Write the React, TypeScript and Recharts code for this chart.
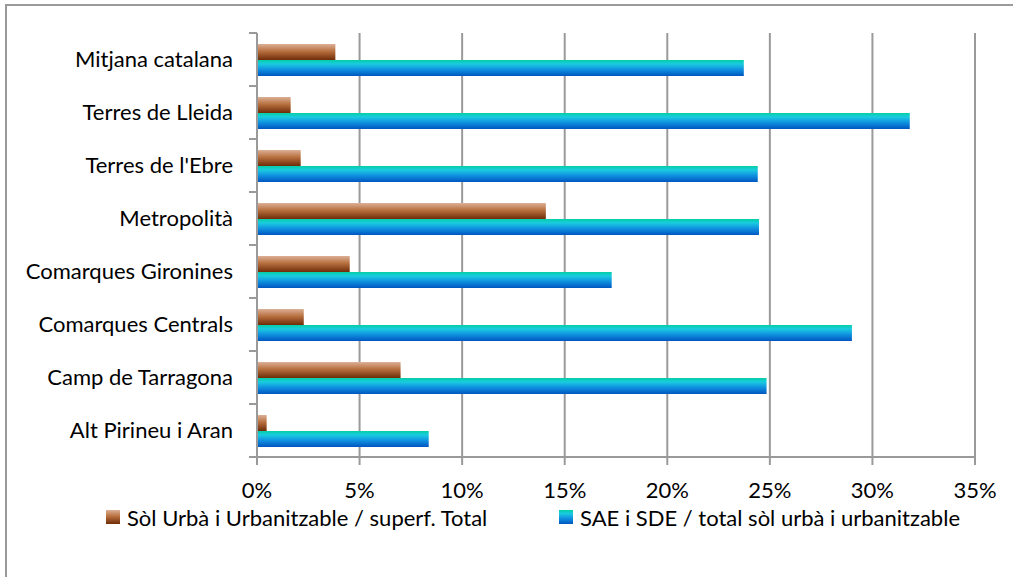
import React from "react";
import { BarChart, Bar, XAxis, YAxis, CartesianGrid } from "recharts";

const categories = [
  "Mitjana catalana",
  "Terres de Lleida",
  "Terres de l'Ebre",
  "Metropolità",
  "Comarques Gironines",
  "Comarques Centrals",
  "Camp de Tarragona",
  "Alt Pirineu i Aran",
];
const solUrba = [0.0382, 0.0164, 0.0213, 0.1408, 0.0452, 0.0228, 0.07, 0.0047];
const saeSde = [0.2373, 0.3182, 0.2441, 0.2447, 0.1729, 0.29, 0.2484, 0.0837];
const xTicks = [0, 0.05, 0.1, 0.15, 0.2, 0.25, 0.3, 0.35];
const seriesNames = [
  "Sòl Urbà i Urbanitzable / superf. Total",
  "SAE i SDE / total sòl urbà i urbanitzable",
];

const data = categories.map((name, i) => ({ name, a: solUrba[i], b: saeSde[i] }));
const n = categories.length;

const FONT = "Lato, 'Open Sans', sans-serif";
const FS = 22;
const GRID = "#9a9a9a";

const CatTick = (props: any) => {
  const { x, y, payload, index } = props;
  const half = payload && payload.offset ? payload.offset : 0;
  return (
    <g>
      <line x1={x - 8} x2={x} y1={y - half} y2={y - half} stroke={GRID} strokeWidth={2} />
      {index === n - 1 ? (
        <line x1={x - 8} x2={x} y1={y + half} y2={y + half} stroke={GRID} strokeWidth={2} />
      ) : null}
      <text x={x - 24} y={y} dy="0.35em" textAnchor="end" fontFamily={FONT} fontSize={FS} fill="#000">
        {payload.value}
      </text>
    </g>
  );
};

export default function App() {
  return (
    <div style={{ position: "absolute", left: 0, top: 0, width: 1013, height: 577, overflow: "hidden", background: "#fff" }}>
      <div style={{ position: "absolute", left: 5, top: 4, width: 1200, height: 800, border: "2px solid #9a9a9a", boxSizing: "border-box" }} />
      <BarChart
        width={1013}
        height={577}
        data={data}
        layout="vertical"
        margin={{ top: 33, right: 38, left: 0, bottom: 0 }}
        barCategoryGap={11}
        barGap={0}
        style={{ position: "absolute", left: 0, top: 0 }}
      >
        <defs>
          <linearGradient id="gBrown" x1="0" y1="0" x2="0" y2="1">
            <stop offset="0%" stopColor="#dcb096" />
            <stop offset="45%" stopColor="#b8703f" />
            <stop offset="100%" stopColor="#6e2c08" />
          </linearGradient>
          <linearGradient id="gBlue" x1="0" y1="0" x2="0" y2="1">
            <stop offset="0%" stopColor="#04cfa6" />
            <stop offset="25%" stopColor="#1acbe0" />
            <stop offset="60%" stopColor="#1090e0" />
            <stop offset="100%" stopColor="#0056c0" />
          </linearGradient>
        </defs>
        <CartesianGrid horizontal={false} stroke={GRID} strokeWidth={2} />
        <XAxis
          type="number"
          domain={[0, 0.35]}
          ticks={xTicks}
          interval={0}
          height={120}
          tickSize={8}
          tickMargin={17}
          axisLine={{ stroke: GRID, strokeWidth: 2 }}
          tickLine={{ stroke: GRID, strokeWidth: 2 }}
          tick={{ fill: "#000", fontSize: FS, fontFamily: FONT }}
          tickFormatter={(v: number) => `${Math.round(v * 100)}%`}
        />
        <YAxis
          type="category"
          dataKey="name"
          interval={0}
          width={257}
          tickSize={0}
          tickMargin={0}
          tickLine={false}
          axisLine={{ stroke: GRID, strokeWidth: 2 }}
          tick={<CatTick />}
        />
        <Bar dataKey="a" name={seriesNames[0]} fill="url(#gBrown)" isAnimationActive={false} />
        <Bar dataKey="b" name={seriesNames[1]} fill="url(#gBlue)" isAnimationActive={false} />
      </BarChart>
      <div style={{ position: "absolute", left: 106, top: 503, height: 28, display: "flex", alignItems: "center", fontFamily: FONT, fontSize: FS, color: "#000", whiteSpace: "nowrap" }}>
        <span style={{ display: "inline-block", width: 14, height: 14, background: "linear-gradient(#dcb096, #b8703f 45%, #6e2c08)", marginRight: 7 }} />
        {seriesNames[0]}
      </div>
      <div style={{ position: "absolute", left: 559, top: 503, height: 28, display: "flex", alignItems: "center", fontFamily: FONT, fontSize: FS, color: "#000", whiteSpace: "nowrap" }}>
        <span style={{ display: "inline-block", width: 14, height: 14, background: "linear-gradient(#04cfa6, #1acbe0 25%, #1090e0 60%, #0056c0)", marginRight: 7 }} />
        {seriesNames[1]}
      </div>
    </div>
  );
}
